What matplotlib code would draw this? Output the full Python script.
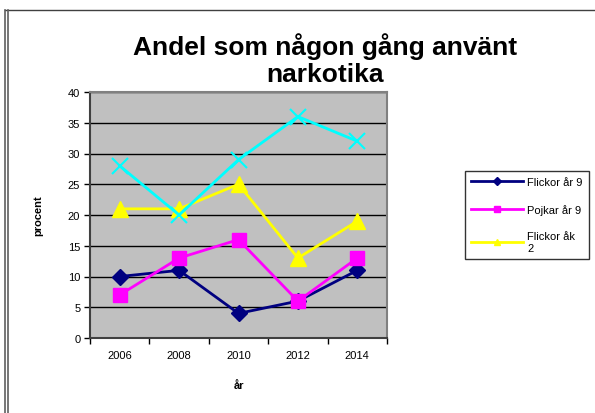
import matplotlib
matplotlib.use("Agg")
import matplotlib.pyplot as plt
from matplotlib.lines import Line2D

plt.rcParams['font.family'] = ['Liberation Sans', 'DejaVu Sans']

years = ["2006", "2008", "2010", "2012", "2014"]
flickor_ar9 = [10, 11, 4, 6, 11]
pojkar_ar9 = [7, 13, 16, 6, 13]
flickor_ak2 = [21, 21, 25, 13, 19]
serie4 = [28, 20, 29, 36, 32]
yticks = [0, 5, 10, 15, 20, 25, 30, 35, 40]

W, H = 595, 414
fig = plt.figure(figsize=(W / 100, H / 100), dpi=100)
fig.patch.set_facecolor('white')

ax = fig.add_axes([90 / W, 1 - 339 / H, (387 - 90) / W, (339 - 93) / H])
ax.set_facecolor('#C0C0C0')

x = list(range(len(years)))
ax.plot(x, flickor_ar9, color='#000080', lw=2, marker='D', ms=8.5, zorder=3, label='Flickor år 9')
ax.plot(x, pojkar_ar9, color='#FF00FF', lw=2, marker='s', ms=9.5, zorder=4, label='Pojkar år 9')
ax.plot(x, flickor_ak2, color='#FFFF00', lw=2, marker='^', ms=11, zorder=5, label='Flickor åk\n2')
ax.plot(x, serie4, color='#00FFFF', lw=2, marker='x', ms=11, mew=1.5, zorder=6)

ax.set_ylim(0, 40)
ax.set_yticks(yticks)
ax.set_xlim(-0.5, len(years) - 0.5)
ax.set_xticks([i - 0.5 for i in range(len(years) + 1)])
ax.set_xticklabels([])
ax.set_xticks(x, minor=True)
ax.set_xticklabels(years, minor=True)
ax.tick_params(axis='x', which='minor', length=0, pad=9, labelsize=8)
ax.tick_params(axis='x', which='major', length=4, width=1, color='black')
ax.tick_params(axis='y', length=4, width=1, labelsize=8, pad=3)
ax.yaxis.grid(True, color='black', lw=1)
ax.set_axisbelow(True)

for side in ['left', 'bottom']:
    ax.spines[side].set_color('#404040')
    ax.spines[side].set_linewidth(1.5)
for side in ['top', 'right']:
    ax.spines[side].set_color('#808080')
    ax.spines[side].set_linewidth(1.5)

ax.set_ylabel('procent', fontsize=8, fontweight='bold', labelpad=18)
ax.set_xlabel('år', fontsize=8, fontweight='bold', labelpad=14)

fig.text(325 / W, 1 - 47 / H, 'Andel som någon gång använt', ha='center', va='center',
         fontsize=19, fontweight='bold')
fig.text(325 / W, 1 - 75 / H, 'narkotika', ha='center', va='center',
         fontsize=19, fontweight='bold')

handles = [
    Line2D([], [], color='#000080', lw=2, marker='D', ms=4),
    Line2D([], [], color='#FF00FF', lw=2, marker='s', ms=5),
    Line2D([], [], color='#FFFF00', lw=2, marker='^', ms=5),
]
labels = ['Flickor år 9', 'Pojkar år 9', 'Flickor åk\n2']
leg = fig.legend(handles, labels, loc='upper left', bbox_to_anchor=(465 / W, 1 - 172 / H),
                 fontsize=8, frameon=True, fancybox=False, handlelength=4.7,
                 handletextpad=0.35, labelspacing=1.5, borderpad=0.55, borderaxespad=0)
leg.get_frame().set_edgecolor('black')
leg.get_frame().set_linewidth(1)

# outer chart border
fig.add_artist(Line2D([5 / W, 1], [1 - 11 / H, 1 - 11 / H], color='#404040', lw=1))
fig.add_artist(Line2D([5 / W, 5 / W], [0, 1 - 11 / H], color='#606060', lw=1.2))
fig.add_artist(Line2D([8 / W, 8 / W], [0, 1 - 11 / H], color='#606060', lw=1.2))

fig.savefig('out.png', dpi=100)
